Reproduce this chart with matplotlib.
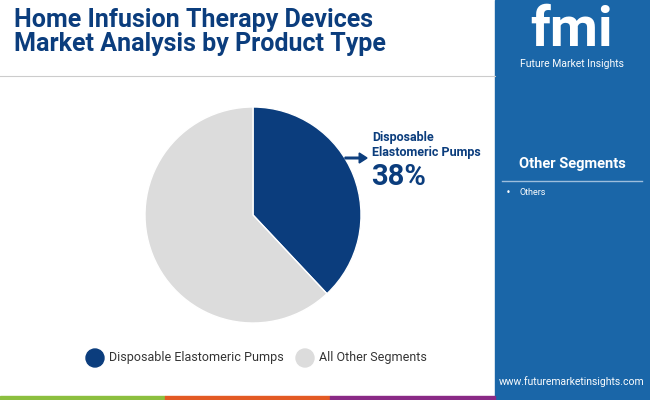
import matplotlib
matplotlib.use("Agg")
import matplotlib.pyplot as plt
from matplotlib.patches import Rectangle, FancyArrow, Ellipse

labels = ["Disposable Elastomeric Pumps", "All Other Segments"]
shares = [38, 62]
colors = ["#0B3D7D", "#DCDCDC"]
other_items = ["Others"]

W, H = 650, 400
fig = plt.figure(figsize=(6.5, 4), dpi=100)
FONT = "Roboto"


def px(x, y):
    return x / W, 1 - y / H


# right panel
fig.add_artist(Rectangle(px(495, 400), 155 / W, 1, color="#1A66A8", zorder=0))
# bottom strip
for i, c in enumerate(["#8CBF3F", "#E35A24", "#8A2A86"]):
    fig.add_artist(Rectangle(px(165 * i, 400), 165 / W, 4 / H, color=c))
# separator under title
fig.add_artist(plt.Line2D([0, 495 / W], [1 - 76 / H] * 2, color="#CCCCCC", lw=0.8))

fig.text(*px(14, 32), "Home Infusion Therapy Devices\nMarket Analysis by Product Type",
         fontsize=18, fontweight="bold", color="#0B3D7D", family=FONT,
         va="center", linespacing=1.05)

# logo
fig.text(*px(572, 31), "fmi", fontsize=40, fontweight="bold", color="white",
         family=FONT, ha="center", va="center")
fig.text(*px(572, 64), "Future Market Insights", fontsize=7.5, color="white",
         family=FONT, ha="center", va="center")

fig.text(*px(572, 164), "Other Segments", fontsize=10.5, fontweight="bold",
         color="white", family=FONT, ha="center", va="center")
fig.add_artist(plt.Line2D([502 / W, 642 / W], [1 - 181 / H] * 2, color="#9DBEDD", lw=1))
for i, it in enumerate(other_items):
    fig.text(*px(506, 193 + 14 * i), "\u2022", fontsize=6, color="white", va="center")
    fig.text(*px(519, 193 + 14 * i), it, fontsize=6.5, color="white",
             family=FONT, va="center")
fig.text(*px(572, 382), "www.futuremarketinsights.com", fontsize=7.5, color="white",
         family=FONT, ha="center", va="center")

# pie
r = 108
ax = fig.add_axes([(253 - r) / W, 1 - (215 + r) / H, 2 * r / W, 2 * r / H])
ax.pie(shares, colors=colors, startangle=90, counterclock=False, radius=1,
       wedgeprops=dict(linewidth=1, edgecolor="white"))
ax.set_xlim(-1, 1)
ax.set_ylim(-1, 1)
ax.axis("off")

fig.add_artist(FancyArrow(345 / W, 1 - 158 / H, 22 / W, 0, width=0.004,
                          head_width=0.025, head_length=0.012,
                          length_includes_head=True, color="#0B3D7D"))
fig.text(*px(372, 145), "Disposable\nElastomeric Pumps", fontsize=9,
         fontweight="bold", color="#0B3D7D", family=FONT, va="center", linespacing=1.2)
fig.text(*px(371, 177), f"{shares[0]}%", fontsize=21, fontweight="bold",
         color="#0B3D7D", family=FONT, va="center")

# legend
lx = [95, 305]
for x, lab, c in zip(lx, labels, colors):
    fig.add_artist(Ellipse(px(x, 358), 18 / W, 18 / H, color=c))
    fig.text(*px(x + 14, 358), lab, fontsize=9, color="#333333", family=FONT,
             va="center")

fig.savefig("out.png", dpi=100)
